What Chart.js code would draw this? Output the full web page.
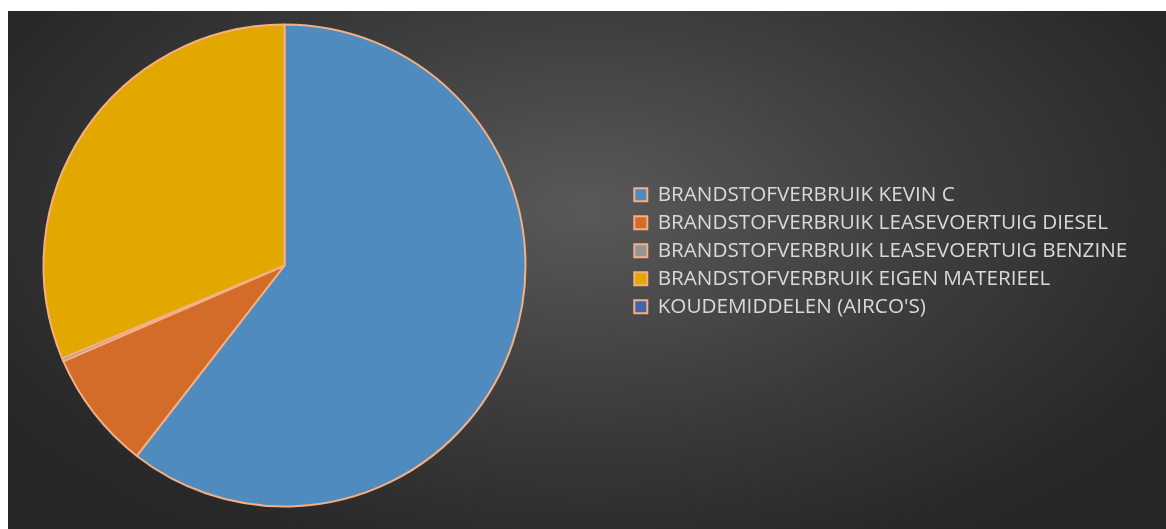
<!DOCTYPE html>
<html>
<head>
<meta charset="utf-8">
<script src="https://cdn.jsdelivr.net/npm/chart.js@4/dist/chart.umd.min.js"></script>
<style>
  html, body { margin: 0; padding: 0; background: #ffffff; }
  #frame {
    position: absolute;
    left: 8px; top: 11px;
    width: 1158px; height: 518px;
    background: radial-gradient(ellipse farthest-corner at 50% 38%, #595959 0%, #3c3c3c 45%, #282828 80%, #262626 100%);
  }
  #chart { position: absolute; left: -66px; top: 0; }
</style>
</head>
<body>
<div id="frame">
  <canvas id="chart" width="1224" height="518"></canvas>
</div>
<script>
// Aandeel per bron (%)
const categories = [
  "BRANDSTOFVERBRUIK KEVIN C",
  "BRANDSTOFVERBRUIK LEASEVOERTUIG DIESEL",
  "BRANDSTOFVERBRUIK LEASEVOERTUIG BENZINE",
  "BRANDSTOFVERBRUIK EIGEN MATERIEEL",
  "KOUDEMIDDELEN (AIRCO'S)"
]
const shares = [60.5, 8.0, 0.2, 31.3, 0.0]
const sliceColors = ['#4f8bbe', '#d46c29', '#959595', '#e2a800', '#3c66ae']
const edgeColor = '#f4b084'

const canvas = document.getElementById('chart')
const ctx = canvas.getContext('2d')

const labelFont = { family: "'Open Sans', sans-serif", size: 20.7 }
const boxSize = 13
const rowGap = 7.3
const pieAreaWidth = 685

// legend width = padding + box + half font + widest label (+10 chart.js adds for vertical legends)
ctx.font = labelFont.size + "px " + labelFont.family
const widest = Math.max(...categories.map(c => ctx.measureText(c).width))
const legendWidth = rowGap + boxSize + labelFont.size / 2 + widest + 10
const rightPad = canvas.width - pieAreaWidth - legendWidth

new Chart(ctx, {
  type: 'pie',
  data: {
    labels: categories,
    datasets: [{
      data: shares,
      backgroundColor: sliceColors,
      borderColor: edgeColor,
      borderWidth: 2,
      radius: 241,
      clip: false
    }]
  },
  options: {
    responsive: false,
    animation: false,
    layout: {
      padding: { left: 0, right: rightPad, top: 166, bottom: 175 }
    },
    plugins: {
      tooltip: { enabled: false },
      legend: {
        position: 'right',
        align: 'start',
        labels: {
          color: '#d9d9d9',
          boxWidth: boxSize,
          boxHeight: boxSize,
          padding: rowGap,
          font: labelFont
        }
      }
    }
  }
})
</script>
</body>
</html>
